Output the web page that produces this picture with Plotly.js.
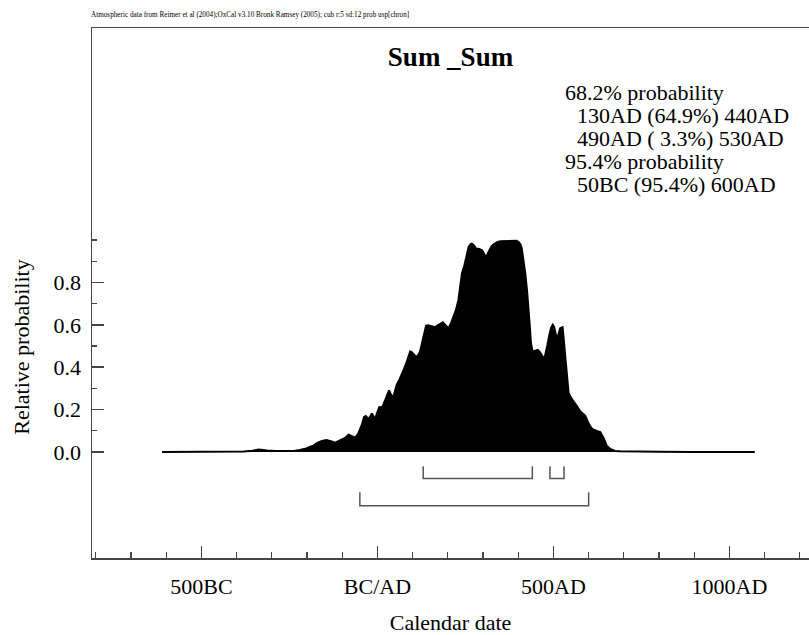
<!DOCTYPE html>
<html>
<head>
<meta charset="utf-8">
<script src="https://cdn.plot.ly/plotly-3.0.1.min.js"></script>
<style>html,body{margin:0;padding:0;background:#fff;}#chart{width:809px;height:635px;}</style>
</head>
<body>
<div id="chart"></div>
<script>
// ---- data ----
const years = [-612,-500,-420,-380,-355,-338,-325,-314,-290,-258,-235,-220,-205,-191,-182,-172,-158,-145,-139,-130,-120,-110,-101,-92,-82,-72,-63,-55,-49,-44,-38,-33,-28,-25,-20,-16,-11,-7,-2,5,10,14,18,22,28,33,38,44,50,55,62,69,75,82,88,93,98,103,108,112,117,121,125,129,134,138,144,150,157,164,169,173,180,186,192,197,202,209,216,223,230,235,240,247,253,259,264,268,274,280,289,297,303,308,313,318,324,330,340,349,368,380,387,395,401,406,410,415,420,425,429,433,436,440,443,449,455,460,464,469,474,479,483,488,493,498,502,506,510,515,519,526,530,533,538,543,550,557,566,576,583,590,597,604,611,618,625,633,638,642,647,652,661,675,689,720,750,800,900,1072];
const prob  = [0,0,0.001,0.002,0.006,0.012,0.010,0.007,0.005,0.004,0.006,0.009,0.015,0.025,0.030,0.042,0.052,0.056,0.055,0.050,0.044,0.052,0.060,0.066,0.082,0.075,0.068,0.085,0.107,0.130,0.165,0.170,0.160,0.157,0.170,0.182,0.168,0.153,0.180,0.211,0.212,0.213,0.230,0.247,0.275,0.291,0.272,0.255,0.290,0.318,0.340,0.365,0.390,0.420,0.450,0.474,0.470,0.462,0.452,0.451,0.460,0.474,0.505,0.537,0.575,0.595,0.598,0.595,0.590,0.589,0.595,0.600,0.608,0.612,0.600,0.590,0.584,0.608,0.636,0.670,0.717,0.780,0.842,0.881,0.925,0.967,0.980,0.983,0.975,0.960,0.958,0.952,0.935,0.913,0.935,0.952,0.970,0.980,0.990,0.994,0.995,0.996,0.999,0.997,0.991,0.980,0.960,0.910,0.842,0.760,0.686,0.590,0.514,0.480,0.474,0.480,0.482,0.475,0.467,0.452,0.438,0.470,0.506,0.550,0.584,0.600,0.590,0.560,0.529,0.560,0.584,0.589,0.520,0.435,0.350,0.279,0.255,0.240,0.218,0.192,0.182,0.172,0.145,0.122,0.108,0.102,0.098,0.094,0.082,0.068,0.048,0.028,0.015,0.005,0.003,0.002,0.002,0.001,0,0];

// highest probability density ranges
const hpd68From = [130, 490];
const hpd68To   = [440, 530];
const hpd68Pct  = [64.9, 3.3];
const hpd95From = [-50];
const hpd95To   = [600];
const hpd95Pct  = [95.4];

// axis ticks
const xTickVals = [-500, 0, 500, 1000];
const xTickText = ['500BC', 'BC/AD', '500AD', '1000AD'];
const xMinorVals = [-800,-700,-600,-400,-300,-200,-100,100,200,300,400,600,700,800,900,1100,1200];
const yTickVals = [0, 0.2, 0.4, 0.6, 0.8];
const yTickText = ['0.0', '0.2', '0.4', '0.6', '0.8'];
const yMinorVals = [0.1, 0.3, 0.5, 0.7, 0.9, 1.0];

const titleText = 'Sum _Sum';
const noteText = 'Atmospheric data from Reimer et al (2004);OxCal v3.10 Bronk Ramsey (2005); cub r:5 sd:12 prob usp[chron]';

// ---- helpers ----
function fmtYear(y) { return y < 0 ? (-y) + 'BC' : y + 'AD'; }
function fmtPct(p) { let s = p.toFixed(1); while (s.length < 4) s = ' ' + s; return '(' + s + '%)'; }
function bracket(from, to, top, bottom) {
  const xs = [], ys = [];
  for (let i = 0; i < from.length; i++) {
    xs.push(from[i], from[i], to[i], to[i], null);
    ys.push(top, bottom, bottom, top, null);
  }
  return {xs, ys};
}

const FONT = 'Liberation Serif, Times New Roman, serif';
const AX = '#444';

const b68 = bracket(hpd68From, hpd68To, -0.067, -0.125);
const b95 = bracket(hpd95From, hpd95To, -0.19, -0.253);

const traces = [
  {x: years, y: prob, type: 'scatter', mode: 'lines', fill: 'tozeroy',
   fillcolor: '#000', line: {color: '#000', width: 2, shape: 'linear'}, hoverinfo: 'skip'},
  {x: b68.xs, y: b68.ys, type: 'scatter', mode: 'lines', line: {color: '#555', width: 1.5}, connectgaps: false, hoverinfo: 'skip'},
  {x: b95.xs, y: b95.ys, type: 'scatter', mode: 'lines', line: {color: '#555', width: 1.5}, connectgaps: false, hoverinfo: 'skip'}
];

const textLines = [
  {t: '68.2% probability', indent: false},
];
for (let i = 0; i < hpd68From.length; i++) textLines.push({t: fmtYear(hpd68From[i]) + ' ' + fmtPct(hpd68Pct[i]) + ' ' + fmtYear(hpd68To[i]), indent: true});
textLines.push({t: '95.4% probability', indent: false});
for (let i = 0; i < hpd95From.length; i++) textLines.push({t: fmtYear(hpd95From[i]) + ' ' + fmtPct(hpd95Pct[i]) + ' ' + fmtYear(hpd95To[i]), indent: true});

const L = 92, R = 809, T = 28, B = 558.5;
const pw = R - L, ph = B - T;
const px2x = (px) => (px - L) / pw;
const px2y = (py) => (B - py) / ph;

const annotations = [];
const lineY0 = 93, lineDY = 22.8;
textLines.forEach((ln, i) => {
  annotations.push({xref: 'paper', yref: 'paper', x: px2x(ln.indent ? 574.5 : 563), y: px2y(lineY0 + i * lineDY),
    xanchor: 'left', yanchor: 'middle', showarrow: false, text: ln.t.replace(/ /g, '\u00a0'),
    font: {family: FONT, size: 22, color: '#000'}});
});
annotations.push({xref: 'paper', yref: 'paper', x: px2x(89), y: px2y(14.5), xanchor: 'left', yanchor: 'middle',
  showarrow: false, text: noteText, font: {family: FONT, size: 7.2, color: '#000'}});
annotations.push({xref: 'paper', yref: 'paper', x: px2x(22), y: px2y(348), xanchor: 'center', yanchor: 'middle',
  showarrow: false, textangle: -90, text: 'Relative probability', font: {family: FONT, size: 22, color: '#000'}});

const layout = {
  width: 809, height: 635,
  margin: {l: L, r: 0, t: T, b: 635 - B, pad: 0},
  paper_bgcolor: '#fff', plot_bgcolor: '#fff',
  showlegend: false,
  font: {family: FONT, color: '#000', size: 22},
  title: {text: '<b>' + titleText + '</b>', font: {family: FONT, size: 27, color: '#000'},
    xref: 'paper', x: 0.5, xanchor: 'center', yref: 'container', y: 1 - 57 / 635, yanchor: 'middle'},
  xaxis: {
    range: [-811, 1226], showgrid: false, zeroline: false,
    showline: true, linecolor: AX, linewidth: 1.5, mirror: true,
    tickmode: 'array', tickvals: xTickVals, ticktext: xTickText,
    ticks: 'inside', ticklen: 12, tickwidth: 1.5, tickcolor: AX, ticklabelstandoff: 8,
    tickfont: {family: FONT, size: 22, color: '#000'},
    minor: {tickmode: 'array', tickvals: xMinorVals, ticks: 'inside', ticklen: 6, tickwidth: 1.2, tickcolor: AX, showgrid: false},
    title: {text: 'Calendar date', font: {family: FONT, size: 22, color: '#000'}, standoff: 24}
  },
  yaxis: {
    range: [-0.5, 2.0], showgrid: false, zeroline: false,
    showline: true, linecolor: AX, linewidth: 1.5, mirror: false,
    tickmode: 'array', tickvals: yTickVals, ticktext: yTickText,
    ticks: 'inside', ticklen: 12, tickwidth: 1.5, tickcolor: AX, ticklabelstandoff: 5,
    tickfont: {family: FONT, size: 22, color: '#000'},
    minor: {tickmode: 'array', tickvals: yMinorVals, ticks: 'inside', ticklen: 5, tickwidth: 1.2, tickcolor: AX, showgrid: false}
  },
  annotations: annotations
};

Plotly.newPlot('chart', traces, layout, {displayModeBar: false, staticPlot: true});
</script>
</body>
</html>
